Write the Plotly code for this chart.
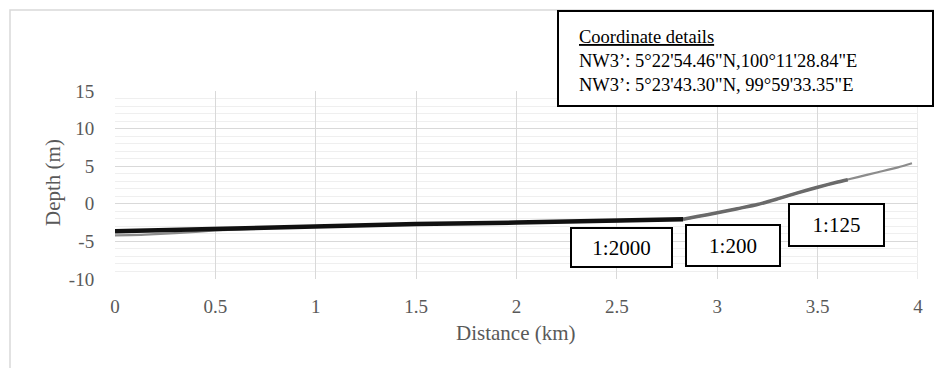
import plotly.graph_objects as go

# ---- data ----
profile_km = [0, 0.15, 0.3, 0.5, 0.75, 1.0, 1.25, 1.5, 1.75, 2.0, 2.25, 2.5, 2.75, 2.83,
              2.9, 3.0, 3.1, 3.2, 3.3, 3.4, 3.5, 3.6, 3.7, 3.8, 3.9, 3.97]
profile_depth = [-4.2, -4.1, -3.9, -3.55, -3.25, -3.0, -2.85, -2.7, -2.6, -2.5, -2.4, -2.3, -2.1, -2.05,
                 -1.7, -1.2, -0.65, -0.1, 0.65, 1.45, 2.2, 2.9, 3.55, 4.2, 4.85, 5.4]

seg2000_km = [0, 0.5, 1.0, 1.5, 2.0, 2.5, 2.83]
seg2000_depth = [-3.65, -3.35, -2.95, -2.7, -2.5, -2.3, -2.05]

seg200_km = [2.83, 2.9, 3.0, 3.1, 3.2, 3.3, 3.4, 3.5, 3.6, 3.65]
seg200_depth = [-2.05, -1.7, -1.2, -0.65, -0.1, 0.65, 1.45, 2.2, 2.9, 3.2]

scale_labels = ["1:2000", "1:200", "1:125"]
coord_title = "Coordinate details"
coord_lines = ["NW3\u2019: 5°22'54.46\"N,100°11'28.84\"E",
               "NW3\u2019: 5°23'43.30\"N, 99°59'33.35\"E"]

x_ticks = [0, 0.5, 1, 1.5, 2, 2.5, 3, 3.5, 4]
y_ticks = [-10, -5, 0, 5, 10, 15]

W, H = 934, 368
L, R, T, B = 115, 16, 91, 89
PW, PH = W - L - R, H - T - B
FONT = "Liberation Serif, Times New Roman, serif"
GREY = "#595959"

def px(x):
    return (x - L) / PW

def py(y):
    return (H - B - y) / PH

fig = go.Figure()
fig.add_trace(go.Scatter(x=profile_km, y=profile_depth, mode="lines",
                         line=dict(color="#8c8c8c", width=2.2, shape="spline", smoothing=0.6),
                         showlegend=False))
fig.add_trace(go.Scatter(x=seg200_km, y=seg200_depth, mode="lines",
                         line=dict(color="#6a6a6a", width=3.5, shape="spline", smoothing=0.6),
                         showlegend=False))
fig.add_trace(go.Scatter(x=seg2000_km, y=seg2000_depth, mode="lines",
                         line=dict(color="#111111", width=4.5), showlegend=False))

shapes = [
    # outer chart border
    dict(type="rect", xref="paper", yref="paper", x0=px(10), x1=px(945), y0=py(10), y1=py(380),
         line=dict(color="#d9d9d9", width=1.5), layer="below"),
    # coordinate box
    dict(type="rect", xref="paper", yref="paper", x0=px(558), x1=px(933), y0=py(11), y1=py(106),
         line=dict(color="black", width=2), fillcolor="white", layer="above"),
]

annotations = []
# axis titles
annotations.append(dict(text="Distance (km)", xref="paper", yref="paper", x=px(515.5), y=py(333),
                        xanchor="center", yanchor="middle", showarrow=False,
                        font=dict(family=FONT, size=21, color=GREY)))
annotations.append(dict(text="Depth (m)", xref="paper", yref="paper", x=px(53), y=py(183),
                        xanchor="center", yanchor="middle", showarrow=False, textangle=-90,
                        font=dict(family=FONT, size=21, color=GREY)))
# coordinate text (one block)
coord_text = "<br>".join(["<u>" + coord_title + "</u>"] + coord_lines)
annotations.append(dict(text=coord_text, xref="paper", yref="paper", x=px(577), y=py(61),
                        xanchor="left", yanchor="middle", align="left", showarrow=False,
                        font=dict(family=FONT, size=18.5, color="black")))
# scale boxes (center px, size px)
box_geom = [(621.5, 247.5, 103, 41), (733, 245.5, 96, 43), (836.5, 225, 97, 44)]
for lab, (cx, cy, bw, bh) in zip(scale_labels, box_geom):
    annotations.append(dict(text=lab, xref="paper", yref="paper", x=px(cx), y=py(cy),
                            xanchor="center", yanchor="middle", showarrow=False,
                            width=bw - 4, height=bh - 4, borderpad=0, borderwidth=2,
                            bordercolor="black", bgcolor="white",
                            font=dict(family=FONT, size=21, color="black")))

fig.update_layout(
    width=W, height=H,
    margin=dict(l=L, r=R, t=T, b=B),
    paper_bgcolor="white", plot_bgcolor="white",
    shapes=shapes, annotations=annotations,
    xaxis=dict(range=[0, 4], tickvals=x_ticks, ticktext=[str(v) for v in x_ticks],
               showgrid=True, gridcolor="#d9d9d9", gridwidth=1, zeroline=False,
               showline=False, ticks="outside", ticklen=10, tickcolor="rgba(0,0,0,0)",
               tickfont=dict(family=FONT, size=19, color=GREY), fixedrange=True),
    yaxis=dict(range=[-10, 15], tickvals=y_ticks, ticktext=[str(v) for v in y_ticks],
               showgrid=True, gridcolor="#d9d9d9", gridwidth=1, zeroline=False,
               showline=False, ticks="outside", ticklen=16, tickcolor="rgba(0,0,0,0)",
               tickfont=dict(family=FONT, size=19, color=GREY),
               minor=dict(dtick=1, showgrid=True, gridcolor="#efefef", gridwidth=1),
               fixedrange=True),
)
# right border of plot area (Excel style grid end)
fig.add_shape(type="line", xref="x", yref="paper", x0=4, x1=4, y0=0, y1=1,
              line=dict(color="#d9d9d9", width=1), layer="below")

fig.write_html("out.html")
